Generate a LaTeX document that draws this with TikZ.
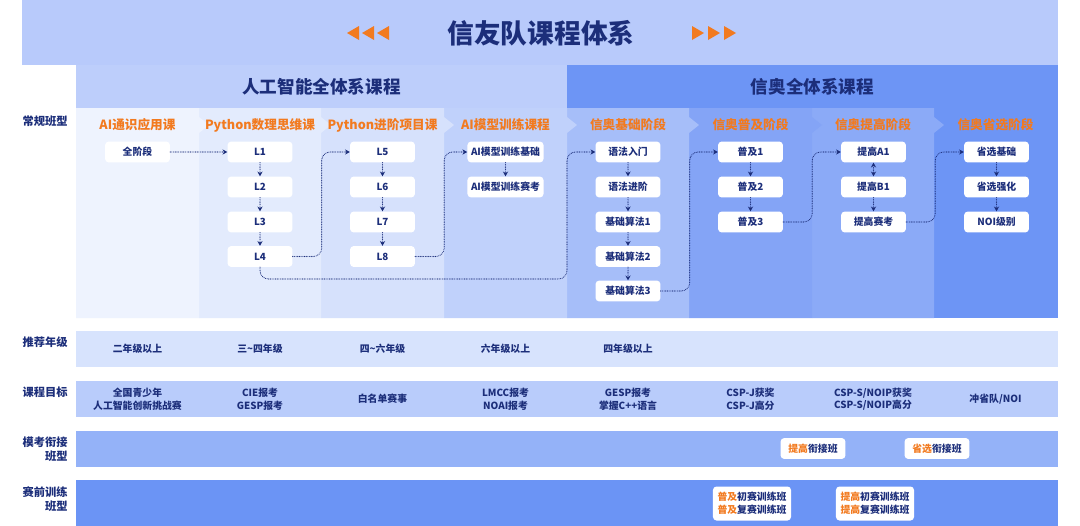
\documentclass[tikz,border=0pt]{standalone}
\usepackage{fontspec}
\setmainfont{Noto Sans CJK SC}
\usetikzlibrary{arrows.meta}

\definecolor{navy}{HTML}{1C2E7A}
\definecolor{accent}{HTML}{F27A1F}
\definecolor{banner}{HTML}{B8CAFB}
\definecolor{aihead}{HTML}{BDCEFB}
\definecolor{oihead}{HTML}{6D95F5}
\definecolor{col1}{HTML}{EEF3FE}
\definecolor{col2}{HTML}{E3EBFD}
\definecolor{col3}{HTML}{D6E1FC}
\definecolor{col4}{HTML}{C0D1FB}
\definecolor{col5}{HTML}{A6BEF9}
\definecolor{col6}{HTML}{84A4F6}
\definecolor{col7}{HTML}{8BAAF7}
\definecolor{col8}{HTML}{6D95F5}
\definecolor{row1}{HTML}{D7E3FD}
\definecolor{row2}{HTML}{B9CCFB}
\definecolor{row3}{HTML}{94B2F8}
\definecolor{row4}{HTML}{6B94F5}

\begin{document}
\begin{tikzpicture}[
    x=0.025cm, y=-0.025cm,
    >={Stealth[length=1.2mm,width=1.3mm]},
    lesson/.style={
        rectangle,
        rounded corners=2.5pt,
        fill=white,
        minimum width=1.62cm,
        minimum height=0.52cm,
        inner sep=1pt,
        font=\fontsize{7}{8}\selectfont\bfseries,
        text=navy
    },
    stage/.style={
        font=\fontsize{9}{10}\selectfont\bfseries,
        text=accent
    },
    rowlabel/.style={
        anchor=east,
        align=right,
        inner sep=0pt,
        font=\fontsize{8}{10}\selectfont\bfseries,
        text=navy
    },
    cell/.style={
        align=center,
        font=\fontsize{7}{9}\selectfont\bfseries,
        text=navy
    },
    flow/.style={
        ->,
        navy,
        line width=0.8pt,
        line cap=round,
        dash pattern=on 0pt off 1.2pt,
        rounded corners=6pt
    }
]

\fill[white] (0,0) rectangle (1080,526);
\useasboundingbox (0,0) rectangle (1080,526);

% Title banner
\fill[banner] (22,0) rectangle (1058,65);
\node[font=\fontsize{19}{22}\selectfont\bfseries, text=navy] (title) at (541,33) {信友队课程体系};
\foreach \t in {347,362,377}
  \fill[accent] (\t,33) -- (\t+12,26) -- (\t+12,40) -- cycle;
\foreach \t in {692,708,724}
  \fill[accent] (\t,26) -- (\t+12,33) -- (\t,40) -- cycle;

% Two programme headers
\fill[aihead] (76,65) rectangle (567,108);
\fill[oihead] (567,65) rectangle (1058,108);
\node[font=\fontsize{12.5}{14}\selectfont\bfseries, text=navy] (aititle) at (321.5,87) {人工智能全体系课程};
\node[font=\fontsize{12.5}{14}\selectfont\bfseries, text=navy] (oititle) at (812.5,87) {信奥全体系课程};

% Stage columns, drawn right to left so each chevron sits on its neighbour
\fill[col8] (934,108) rectangle (1058,318);
\foreach \xl/\xr/\c in {812/934/col7, 689/812/col6, 567/689/col5, 444/567/col4,
                        321/444/col3, 199/321/col2, 76/199/col1}
  \fill[\c] (\xl,108) -- (\xr,108) -- (\xr,117) -- (\xr+10,125) -- (\xr,133)
            -- (\xr,318) -- (\xl,318) -- cycle;

\node[rowlabel] (regular) at (68,121) {常规班型};

\node[stage] (s1) at (137.5,125) {AI通识应用课};
\node[stage] (s2) at (260,125) {Python数理思维课};
\node[stage] (s3) at (382.5,125) {Python进阶项目课};
\node[stage] (s4) at (505.5,125) {AI模型训练课程};
\node[stage] (s5) at (628,125) {信奥基础阶段};
\node[stage] (s6) at (750.5,125) {信奥普及阶段};
\node[stage] (s7) at (873,125) {信奥提高阶段};
\node[stage] (s8) at (995.5,125) {信奥省选阶段};

% Lessons
\node[lesson] (all) at (137.5,152) {全阶段};

\node[lesson] (L1) at (260,152) {L1};
\node[lesson] (L2) at (260,187) {L2};
\node[lesson] (L3) at (260,222) {L3};
\node[lesson] (L4) at (260,256.5) {L4};

\node[lesson] (L5) at (382.5,152) {L5};
\node[lesson] (L6) at (382.5,187) {L6};
\node[lesson] (L7) at (382.5,222) {L7};
\node[lesson] (L8) at (382.5,256.5) {L8};

\node[lesson, minimum width=1.9cm] (aibase) at (505.5,152) {AI模型训练基础};
\node[lesson, minimum width=1.9cm] (aiexam) at (505.5,187) {AI模型训练赛考};

\node[lesson] (syn1) at (628,152) {语法入门};
\node[lesson] (syn2) at (628,187) {语法进阶};
\node[lesson] (alg1) at (628,222) {基础算法1};
\node[lesson] (alg2) at (628,256.5) {基础算法2};
\node[lesson] (alg3) at (628,291) {基础算法3};

\node[lesson] (pj1) at (750.5,152) {普及1};
\node[lesson] (pj2) at (750.5,187) {普及2};
\node[lesson] (pj3) at (750.5,222) {普及3};

\node[lesson] (tgA) at (873.5,152) {提高A1};
\node[lesson] (tgB) at (873.5,187) {提高B1};
\node[lesson] (tgexam) at (873.5,222) {提高赛考};

\node[lesson] (sx1) at (996.5,152) {省选基础};
\node[lesson] (sx2) at (996.5,187) {省选强化};
\node[lesson] (noi) at (996.5,222) {NOI级别};

% Progression
\draw[flow] (all.east) -- (L1.west);
\draw[flow] (L1) -- (L2);
\draw[flow] (L2) -- (L3);
\draw[flow] (L3) -- (L4);
\draw[flow] (L4.east) -- ++(29,0) |- (L5.west);
\draw[flow] (L5) -- (L6);
\draw[flow] (L6) -- (L7);
\draw[flow] (L7) -- (L8);
\draw[flow] (L8.east) -- ++(29,0) |- (aibase.west);
\draw[flow] (aibase) -- (aiexam);

\coordinate (detour) at (567,279);
\draw[flow] (L4.south) |- (detour) |- (syn1.west);
\draw[flow] (syn1) -- (syn2);
\draw[flow] (syn2) -- (alg1);
\draw[flow] (alg1) -- (alg2);
\draw[flow] (alg2) -- (alg3);
\draw[flow] (alg3.east) -- ++(29,0) |- (pj1.west);
\draw[flow] (pj1) -- (pj2);
\draw[flow] (pj2) -- (pj3);
\draw[flow] (pj3.east) -- ++(29,0) |- (tgA.west);
\draw[flow, <->] (tgA) -- (tgB);
\draw[flow] (tgB) -- (tgexam);
\draw[flow] (tgexam.east) -- ++(29,0) |- (sx1.west);
\draw[flow] (sx1) -- (sx2);
\draw[flow] (sx2) -- (noi);

% Recommended grade
\fill[row1] (76,331) rectangle (1058,367);
\node[rowlabel] (grade) at (68,342) {推荐年级};
\node[cell] (g1) at (137.5,349) {二年级以上};
\node[cell] (g2) at (260,349) {三\textasciitilde 四年级};
\node[cell] (g3) at (382.5,349) {四\textasciitilde 六年级};
\node[cell] (g4) at (505.5,349) {六年级以上};
\node[cell] (g5) at (628,349) {四年级以上};

% Course goals
\fill[row2] (76,381) rectangle (1058,417);
\node[rowlabel] (goal) at (68,392) {课程目标};
\node[cell] (t1) at (137.5,399) {全国青少年\\人工智能创新挑战赛};
\node[cell] (t2) at (260,399) {CIE报考\\GESP报考};
\node[cell] (t3) at (382.5,399) {白名单赛事};
\node[cell] (t4) at (505.5,399) {LMCC报考\\NOAI报考};
\node[cell] (t5) at (628,399) {GESP报考\\掌握C++语言};
\node[cell] (t6) at (750.5,399) {CSP-J获奖\\CSP-J高分};
\node[cell] (t7) at (873,399) {CSP-S/NOIP获奖\\CSP-S/NOIP高分};
\node[cell] (t8) at (995.5,399) {冲省队/NOI};

% Mock exam bridging classes
\fill[row3] (76,431) rectangle (1058,467);
\node[rowlabel] (mock) at (68,449) {模考衔接\\班型};
\node[lesson] (tgbridge) at (813,448.5) {\textcolor{accent}{提高}衔接班};
\node[lesson] (sxbridge) at (937,448.5) {\textcolor{accent}{省选}衔接班};

% Pre-contest training classes
\fill[row4] (76,480) rectangle (1058,526);
\node[rowlabel] (train) at (68,499) {赛前训练\\班型};
\node[lesson, align=center, minimum width=1.95cm, minimum height=0.85cm,
      font=\fontsize{7}{9}\selectfont\bfseries] (pjtrain) at (752,503.5)
      {\textcolor{accent}{普及}初赛训练班\\\textcolor{accent}{普及}复赛训练班};
\node[lesson, align=center, minimum width=1.95cm, minimum height=0.85cm,
      font=\fontsize{7}{9}\selectfont\bfseries] (tgtrain) at (875,503.5)
      {\textcolor{accent}{提高}初赛训练班\\\textcolor{accent}{提高}复赛训练班};

\end{tikzpicture}
\end{document}
